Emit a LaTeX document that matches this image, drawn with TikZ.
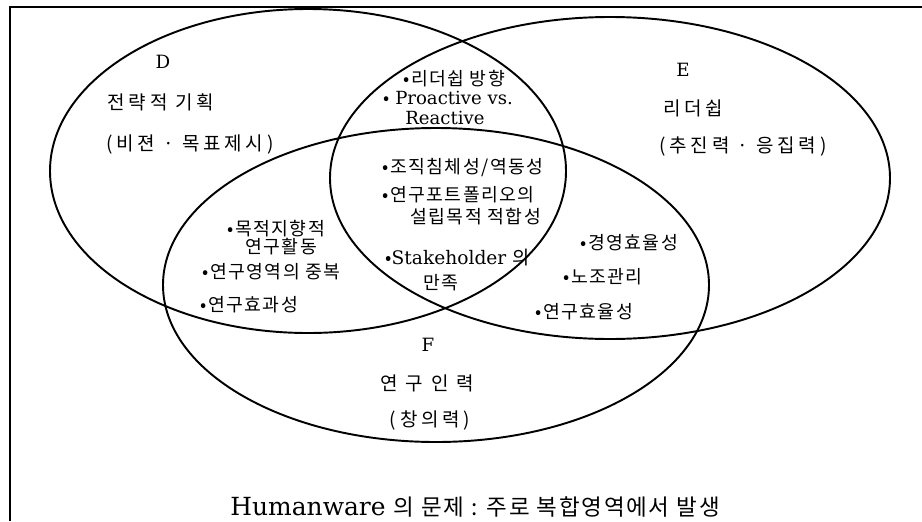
\documentclass[tikz,border=0pt]{standalone}
\usepackage{fontspec}
\setmainfont{DejaVu Serif}
\newfontfamily\kr{Noto Sans CJK KR}
\newfontfamily\krmid[LetterSpace=8]{Noto Sans CJK KR}
\newfontfamily\krwide[LetterSpace=20]{Noto Sans CJK KR}
\usepackage{tikz}

\begin{document}
\begin{tikzpicture}[x=0.02cm, y=0.02cm]
     \tikzstyle{every node}+=[inner sep=0pt]
     \tikzstyle{bulletitem}=[anchor=west, font=\krmid\fontsize{10.4}{12}\selectfont]
     \tikzstyle{latinitem}=[anchor=west, font=\fontsize{10.6}{12}\selectfont]
     \tikzstyle{arealetter}=[font=\fontsize{10.4}{12}\selectfont]
     \tikzstyle{areaname}=[font=\krwide\fontsize{10.8}{12}\selectfont]
     \useasboundingbox (0,0) rectangle (922,-521);
     % frame
     \draw [black, line width=0.8pt] (10,-521) -- (10,-7) -- (922,-7);
     % the three areas
     \draw [black, line width=1.1pt] (308,-171) ellipse (258 and 162);
     \draw [black, line width=1.1pt] (610,-178) ellipse (280 and 161);
     \draw [black, line width=1.1pt] (436,-285) ellipse (273 and 157);
     % D
     \node [arealetter] (dlet) at (163,-62) {D};
     \node [areaname] (dname) at (161,-102) {전략적 기획};
     \node [areaname] (dsub) at (190,-145) {(비젼 · 목표제시)};
     % E
     \node [arealetter] (elet) at (683,-70) {E};
     \node [areaname] (ename) at (693,-108) {리더쉽};
     \node [areaname] (esub) at (743,-147) {(추진력 · 응집력)};
     % F
     \node [arealetter] (flet) at (428,-345) {F};
     \node [areaname] (fname) at (427,-383) {연 구 인 력};
     \node [areaname] (fsub) at (430,-420) {(창의력)};
     % D and E
     \node [bulletitem] (lead) at (403,-79) {•리더쉽 방향};
     \node [latinitem, font=\fontsize{10.3}{12}\selectfont] (proact) at (383,-98) {{\kr •} Proactive vs.};
     \node [latinitem, font=\fontsize{10.3}{12}\selectfont] (react) at (405,-118) {Reactive};
     % D, E and F
     \node [bulletitem] (stag) at (382,-168) {•조직침체성/역동성};
     \node [bulletitem] (portf) at (382,-195) {•연구포트폴리오의};
     \node [bulletitem] (purp) at (410,-217) {설립목적 적합성};
     \node [latinitem] (stake) at (385,-258) {{\kr •}Stakeholder {\krmid 의}};
     \node [bulletitem] (satis) at (423,-283) {만족};
     % D and F
     \node [bulletitem] (goal) at (227,-229) {•목적지향적};
     \node [bulletitem] (goalb) at (245,-247) {연구활동};
     \node [bulletitem] (overl) at (202,-272) {•연구영역의 중복};
     \node [bulletitem] (effect) at (200,-305) {•연구효과성};
     % E and F
     \node [bulletitem] (mgmt) at (580,-243) {•경영효율성};
     \node [bulletitem] (union) at (563,-277) {•노조관리};
     \node [bulletitem] (effic) at (535,-312) {•연구효율성};
     % caption
     \node [anchor=west, font=\fontsize{14.2}{16}\selectfont] (caption) at (230,-507)
          {Humanware {\krmid\fontsize{12.8}{15}\selectfont 의 문제 : 주로 복합영역에서 발생}};
   \end{tikzpicture}
\end{document}
